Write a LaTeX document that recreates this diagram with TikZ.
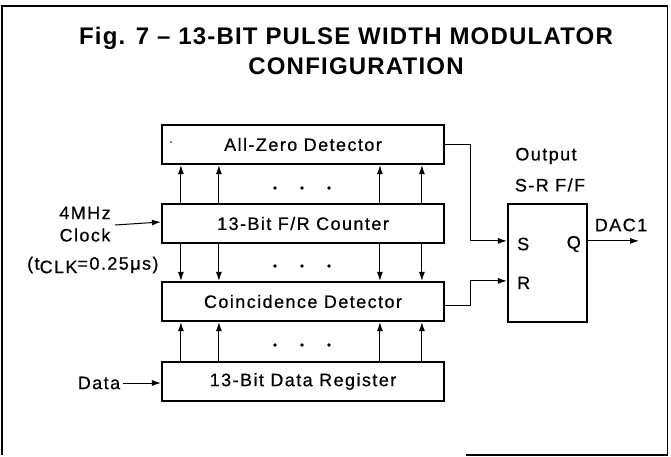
\documentclass[tikz,border=0pt]{standalone}
\usepackage{fontspec}
\setmainfont{Liberation Sans}
\newfontfamily\lab[LetterSpace=8,FakeBold=0.6]{Liberation Sans}
\newfontfamily\ttl[LetterSpace=5]{Liberation Sans}
\usetikzlibrary{arrows.meta}
\begin{document}
\begin{tikzpicture}[x=1pt,y=-1pt,
  lbl/.style={inner sep=0pt,font=\lab\fontsize{18}{21}\selectfont},
  blk/.style={draw,line width=2.2pt,minimum width=282pt,minimum height=39pt,inner sep=0pt,font=\lab\fontsize{18}{21}\selectfont},
  ffbox/.style={draw,line width=2.2pt,minimum width=79pt,minimum height=118pt,inner sep=0pt},
  arr/.style={line width=1pt,-{Latex[length=9pt,width=6pt]}},
  frm/.style={line width=1.5pt},
  dotc/.style={fill,circle,inner sep=0pt,minimum size=3.8pt}]
\useasboundingbox (0,0) rectangle (671,457);
% frame
\draw[frm] (466,455) -- (667.5,455) -- (667.5,6) -- (2,6) -- (2,455);
% title
\node[anchor=base,inner sep=0pt,font=\ttl\bfseries\fontsize{24}{28}\selectfont] (t1) at (346,45) {Fig. 7 – 13-BIT PULSE WIDTH MODULATOR};
\node[anchor=base,inner sep=0pt,font=\ttl\bfseries\fontsize{24}{28}\selectfont] (t2) at (356,75) {CONFIGURATION};
% blocks
\node[blk] (az) at (303,144.5) {All-Zero Detector};
\node[blk] (cnt) at (303,223.5) {13-Bit F/R Counter};
\node[blk] (cd) at (303,301.5) {Coincidence Detector};
\node[blk] (dr) at (303,381.5) {13-Bit Data Register};
\node[dotc,minimum size=1.8pt] (speck) at (171,142) {};
% bus arrows
\foreach \dx in {20,58,219,261}{
  \draw[arr] ([xshift=\dx pt]cnt.north west) -- ([xshift=\dx pt]az.south west);
  \draw[arr] ([xshift=\dx pt]cnt.south west) -- ([xshift=\dx pt]cd.north west);
  \draw[arr] ([xshift=\dx pt]dr.north west) -- ([xshift=\dx pt]cd.south west);
}
% dots
\foreach \px in {275,302,329}{
  \node[dotc] at (\px,188) {};
  \node[dotc] at (\px,266) {};
  \node[dotc] at (\px,345) {};
}
% flip-flop
\node[ffbox] (ff) at (547.5,263) {};
\node[lbl,anchor=west] (s) at (517,244) {S};
\node[lbl,anchor=west] (r) at (517,283) {R};
\node[lbl,anchor=east] (q) at (581,244) {Q};
\node[lbl] (outl) at (546,156) {Output};
\node[lbl] (srff) at (550,185) {S-R F/F};
\node[lbl] (dac) at (621,225) {DAC1};
\draw[arr] (az.east) -- ++(25,0) |- ([yshift=-38pt]ff.north west);
\draw[arr] ([yshift=-3.5pt]cd.east) -- ++(25,0) |- ([yshift=-78pt]ff.north west);
\draw[arr] ([yshift=-38pt]ff.north east) -- ++(51,0);
% clock
\node[lbl] (mhz) at (85,213) {4MHz};
\node[lbl] (clk) at (85,235) {Clock};
\node[lbl,anchor=west] (tclk) at (27,265) {(t\raisebox{-3.5pt}{CLK}=0.25μs)};
\coordinate (clkin) at (115,225);
\draw[arr] (clkin) -- ([yshift=1.5pt]cnt.west);
% data
\node[lbl] (data) at (99,383) {Data};
\draw[arr] ([xshift=3pt]data.east) -- (data.east -| dr.west);
\end{tikzpicture}
\end{document}
